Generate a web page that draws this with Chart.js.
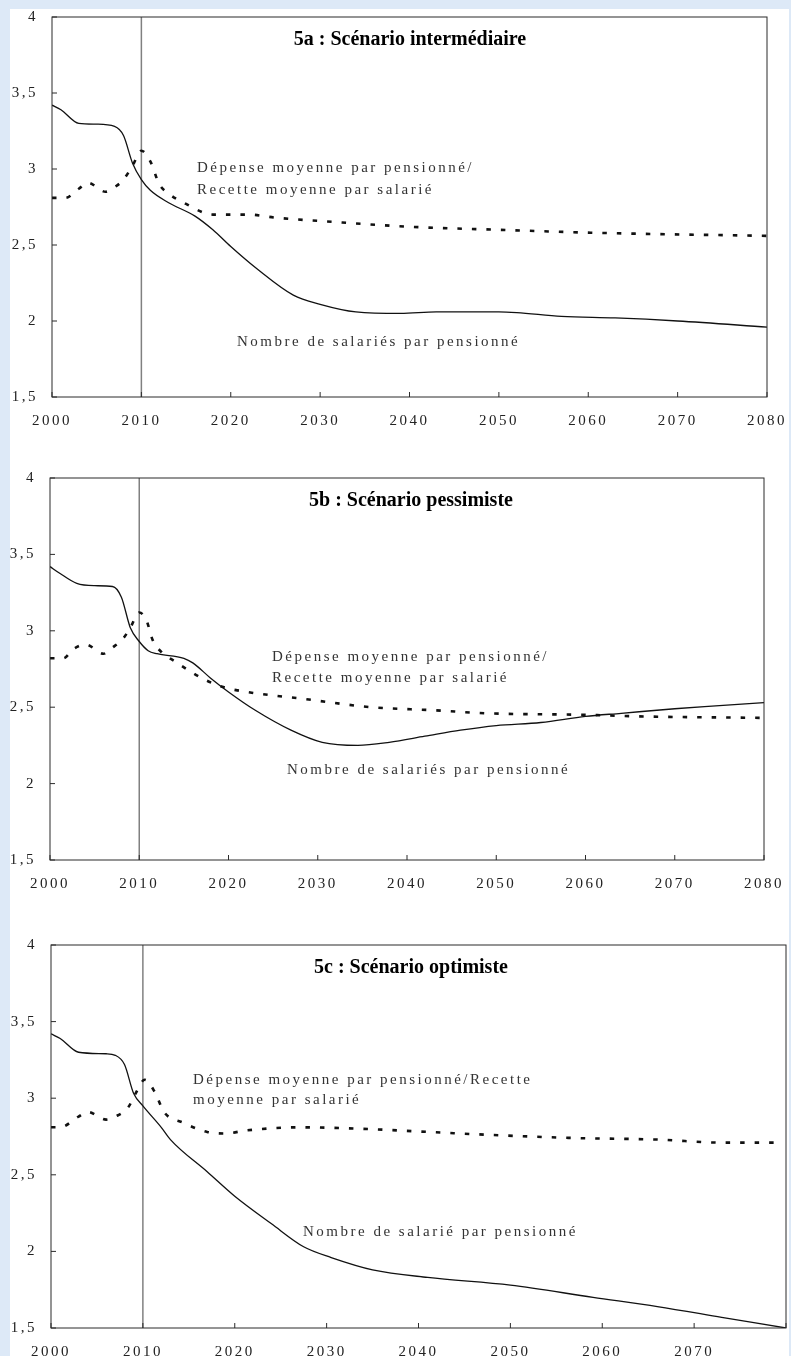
<!DOCTYPE html>
<html lang="fr">
<head>
<meta charset="utf-8">
<title>Nombre de salariés par pensionné - scénarios</title>
<script src="https://cdn.jsdelivr.net/npm/chart.js@4.4.1/dist/chart.umd.min.js"></script>
<style>
    html, body { margin: 0; padding: 0; }
    body { width: 791px; height: 1356px; background: #dde9f7; position: relative; overflow: hidden; }
    #panel { position: absolute; left: 10px; top: 9px; width: 779px; height: 1347px; background: #fff; }
    canvas { position: absolute; left: 0; }
</style>
</head>
<body>
<div id="panel"></div>
<canvas id="c5a" width="791" height="437" style="top:0px"></canvas>
<canvas id="c5b" width="791" height="439" style="top:461px"></canvas>
<canvas id="c5c" width="791" height="440" style="top:928px"></canvas>
<script>
// Axes
const X_TICKS = [2000, 2010, 2020, 2030, 2040, 2050, 2060, 2070, 2080];
const Y_TICKS = [1.5, 2, 2.5, 3, 3.5, 4];
const MARK_YEAR = 2010;

// 5a : Scénario intermédiaire
const YEARS_5A_SAL = [2000, 2001, 2003, 2005, 2007, 2008, 2009, 2010, 2011, 2013, 2016, 2018, 2020, 2023, 2027, 2030, 2034, 2039, 2043, 2050, 2052, 2057, 2063, 2070, 2080];
const SAL_5A = [3.42, 3.39, 3.30, 3.295, 3.28, 3.22, 3.04, 2.93, 2.86, 2.78, 2.69, 2.60, 2.49, 2.34, 2.17, 2.11, 2.06, 2.05, 2.06, 2.06, 2.055, 2.03, 2.02, 2.00, 1.96];
const YEARS_5A_DEP = [2000, 2001.5, 2003, 2004, 2006, 2007, 2008, 2009, 2010, 2011, 2012, 2013, 2015, 2018, 2022, 2025, 2032, 2040, 2050, 2061, 2080];
const DEP_5A = [2.81, 2.81, 2.87, 2.91, 2.85, 2.88, 2.93, 3.02, 3.12, 3.05, 2.90, 2.84, 2.77, 2.70, 2.70, 2.68, 2.65, 2.62, 2.60, 2.58, 2.56];

// 5b : Scénario pessimiste
const YEARS_5B_SAL = [2000, 2001, 2003, 2005, 2007, 2008, 2009, 2010, 2011, 2012, 2015, 2016, 2018, 2020, 2023, 2027, 2030.5, 2034.5, 2038, 2042, 2046, 2050, 2055, 2060, 2064, 2070, 2075, 2080];
const SAL_5B = [3.42, 3.38, 3.31, 3.295, 3.29, 3.22, 3.02, 2.93, 2.87, 2.85, 2.82, 2.79, 2.69, 2.60, 2.48, 2.35, 2.27, 2.25, 2.27, 2.31, 2.35, 2.38, 2.40, 2.44, 2.46, 2.49, 2.51, 2.53];
const YEARS_5B_DEP = [2000, 2001.5, 2002.6, 2004, 2006, 2007, 2008.2, 2009, 2010, 2010.8, 2011.5, 2012.5, 2014, 2017, 2019.5, 2021, 2029, 2036, 2043, 2049, 2060, 2066, 2080];
const DEP_5B = [2.82, 2.82, 2.88, 2.91, 2.85, 2.89, 2.95, 3.02, 3.12, 3.07, 2.94, 2.86, 2.80, 2.69, 2.63, 2.61, 2.55, 2.50, 2.48, 2.46, 2.45, 2.44, 2.43];

// 5c : Scénario optimiste
const YEARS_5C_SAL = [2000, 2001, 2003, 2006, 2007, 2008, 2009, 2010, 2012, 2013, 2017, 2020, 2024, 2027.5, 2030.5, 2035, 2041, 2050, 2059, 2066, 2073, 2080];
const SAL_5C = [3.42, 3.39, 3.30, 3.29, 3.28, 3.22, 3.03, 2.95, 2.81, 2.73, 2.52, 2.36, 2.18, 2.03, 1.96, 1.88, 1.83, 1.78, 1.70, 1.64, 1.57, 1.50];
const YEARS_5C_DEP = [2000, 2001, 2003, 2004, 2006, 2007, 2008.4, 2009.2, 2010.2, 2011.3, 2012.3, 2014.4, 2017, 2019, 2021.3, 2027, 2034, 2041, 2048, 2057, 2066, 2073, 2079];
const DEP_5C = [2.81, 2.81, 2.88, 2.91, 2.86, 2.88, 2.94, 3.03, 3.12, 3.04, 2.91, 2.84, 2.78, 2.77, 2.79, 2.81, 2.80, 2.78, 2.76, 2.74, 2.73, 2.71, 2.71];

const FONT = '"Liberation Serif", "DejaVu Serif", serif';
const SPACING = '2.5px';

// Frame, inward ticks, the 2010 marker and the in-plot texts
const framePlugin = {
    id: 'frameNotes',
    beforeDraw: function(chart) {
        chart.ctx.letterSpacing = SPACING;
    },
    beforeDatasetsDraw: function(chart) {
        const ctx = chart.ctx, a = chart.chartArea;
        const px = chart.scales.x.getPixelForValue(MARK_YEAR);
        ctx.save();
        ctx.strokeStyle = '#808080';
        ctx.lineWidth = 1.5;
        ctx.beginPath();
        ctx.moveTo(px, a.top);
        ctx.lineTo(px, a.bottom);
        ctx.stroke();
        ctx.restore();
    },
    afterDatasetsDraw: function(chart, args, opts) {
        const ctx = chart.ctx, a = chart.chartArea;
        const xs = chart.scales.x, ys = chart.scales.y;
        ctx.save();
        ctx.strokeStyle = '#2b2b2b';
        ctx.lineWidth = 1;
        ctx.strokeRect(a.left, a.top, a.right - a.left, a.bottom - a.top);
        ctx.beginPath();
        Y_TICKS.forEach(v => {
            const py = ys.getPixelForValue(v);
            ctx.moveTo(a.left, py);
            ctx.lineTo(a.left + 5, py);
        });
        X_TICKS.forEach(v => {
            const px = xs.getPixelForValue(v);
            ctx.moveTo(px, a.bottom);
            ctx.lineTo(px, a.bottom - 5);
        });
        ctx.stroke();

        // notes
        ctx.fillStyle = '#333';
        ctx.font = '15px ' + FONT;
        ctx.textAlign = 'left';
        ctx.textBaseline = 'middle';
        ctx.letterSpacing = SPACING;
        (opts.notes || []).forEach(n => ctx.fillText(n.text, a.left + n.dx, a.top + n.dy));

        // title
        ctx.letterSpacing = '0px';
        ctx.fillStyle = '#000';
        ctx.font = 'bold 20px ' + FONT;
        ctx.textAlign = 'center';
        ctx.fillText(opts.title, a.left + opts.titleDx, a.top + opts.titleDy);
        ctx.restore();
        ctx.letterSpacing = SPACING;
    }
};

// keep the plot box where the layout padding puts it
function noLabelPadding(s) {
    s.paddingTop = 0;
    s.paddingBottom = 0;
    s.paddingLeft = 0;
    s.paddingRight = 0;
}

const ScenarioCharts = {
    instances: {},

    toPoints: function(years, values) {
        return years.map((yr, i) => ({ x: yr, y: values[i] }));
    },

    create: function(canvasId, cfg) {
        const ctx = document.getElementById(canvasId);
        const chart = new Chart(ctx, {
            type: 'line',
            data: {
                datasets: [
                    {
                        label: 'Nombre de salariés par pensionné',
                        data: this.toPoints(cfg.salYears, cfg.sal),
                        borderColor: '#111',
                        borderWidth: 1.3,
                        pointRadius: 0,
                        cubicInterpolationMode: 'monotone'
                    },
                    {
                        label: 'Dépense moyenne par pensionné/Recette moyenne par salarié',
                        data: this.toPoints(cfg.depYears, cfg.dep),
                        borderColor: '#111',
                        borderWidth: 2.6,
                        borderDash: [4.5, 10],
                        pointRadius: 0,
                        cubicInterpolationMode: 'monotone'
                    }
                ]
            },
            options: {
                responsive: false,
                animation: false,
                events: [],
                layout: {
                    padding: { left: cfg.padLeft, right: cfg.padRight, top: 17, bottom: 10 }
                },
                plugins: {
                    legend: { display: false },
                    tooltip: { enabled: false },
                    frameNotes: {
                        title: cfg.title,
                        titleDx: cfg.titleDx,
                        titleDy: 23,
                        notes: cfg.notes
                    }
                },
                scales: {
                    x: {
                        type: 'linear',
                        min: 2000,
                        max: 2080,
                        afterBuildTicks: s => { s.ticks = X_TICKS.map(v => ({ value: v })); },
                        afterFit: s => { s.height = 30; noLabelPadding(s); },
                        grid: { display: false, drawTicks: false },
                        border: { display: false },
                        ticks: {
                            autoSkip: false,
                            maxRotation: 0,
                            padding: 15,
                            color: '#222',
                            font: { family: FONT, size: 15 },
                            callback: v => (cfg.hideLast && v === 2080) ? '' : String(v)
                        }
                    },
                    y: {
                        min: 1.5,
                        max: 4,
                        afterBuildTicks: s => { s.ticks = Y_TICKS.map(v => ({ value: v })); },
                        afterFit: s => { s.width = 40; noLabelPadding(s); },
                        grid: { display: false, drawTicks: false },
                        border: { display: false },
                        ticks: {
                            padding: 14,
                            color: '#222',
                            font: { family: FONT, size: 15 },
                            callback: v => String(v).replace('.', ',')
                        }
                    }
                }
            },
            plugins: [framePlugin]
        });
        this.instances[canvasId] = chart;
        return chart;
    }
};

ScenarioCharts.create('c5a', {
    salYears: YEARS_5A_SAL, sal: SAL_5A,
    depYears: YEARS_5A_DEP, dep: DEP_5A,
    padLeft: 12, padRight: 24,
    title: '5a : Scénario intermédiaire', titleDx: 358,
    notes: [
        { text: 'Dépense moyenne par pensionné/', dx: 145, dy: 151 },
        { text: 'Recette moyenne par salarié', dx: 145, dy: 173 },
        { text: 'Nombre de salariés par pensionné', dx: 185, dy: 325 }
    ]
});

ScenarioCharts.create('c5b', {
    salYears: YEARS_5B_SAL, sal: SAL_5B,
    depYears: YEARS_5B_DEP, dep: DEP_5B,
    padLeft: 10, padRight: 27,
    title: '5b : Scénario pessimiste', titleDx: 361,
    notes: [
        { text: 'Dépense moyenne par pensionné/', dx: 222, dy: 179 },
        { text: 'Recette moyenne par salarié', dx: 222, dy: 200 },
        { text: 'Nombre de salariés par pensionné', dx: 237, dy: 292 }
    ]
});

ScenarioCharts.create('c5c', {
    salYears: YEARS_5C_SAL, sal: SAL_5C,
    depYears: YEARS_5C_DEP, dep: DEP_5C,
    padLeft: 11, padRight: 5, hideLast: true,
    title: '5c : Scénario optimiste', titleDx: 360,
    notes: [
        { text: 'Dépense moyenne par pensionné/Recette', dx: 142, dy: 135 },
        { text: 'moyenne par salarié', dx: 142, dy: 155 },
        { text: 'Nombre de salarié par pensionné', dx: 252, dy: 287 }
    ]
});
</script>
</body>
</html>
